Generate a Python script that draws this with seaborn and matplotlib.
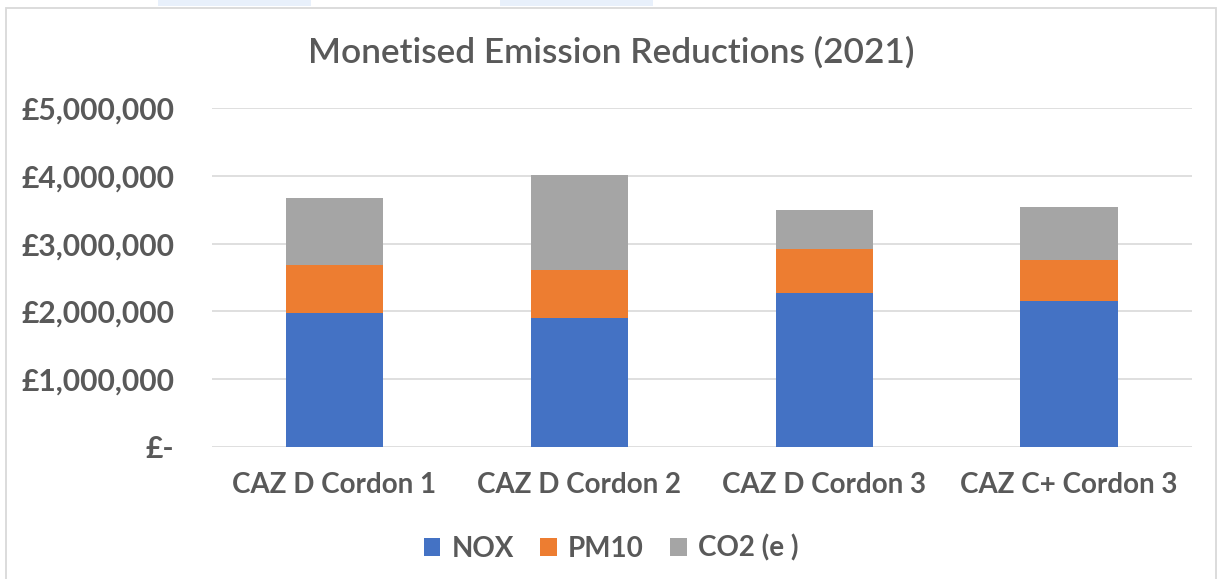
import matplotlib
matplotlib.use("Agg")
import matplotlib.pyplot as plt
from matplotlib.patches import Rectangle, Patch
from matplotlib.ticker import FuncFormatter
import seaborn as sns
import pandas as pd
import numpy as np

categories = ["CAZ D Cordon 1", "CAZ D Cordon 2", "CAZ D Cordon 3", "CAZ C+ Cordon 3"]
nox = [1980000, 1900000, 2275000, 2160000]
pm10 = [700000, 705000, 640000, 600000]
co2 = [990000, 1415000, 575000, 780000]
series_names = ["NOX", "PM10", "CO2 (e )"]
colors = ["#4472C4", "#ED7D31", "#A5A5A5"]
yticks = [0, 1000000, 2000000, 3000000, 4000000, 5000000]

sns.set_theme(style="white")
plt.rcParams['font.family'] = ['Lato', 'DejaVu Sans']
text_col = "#595959"

fig = plt.figure(figsize=(12.19, 5.79), dpi=100)
W, H = 1219, 579
ax = fig.add_axes([212/W, 1 - 446.7/H, (1191.5 - 212)/W, (446.7 - 108.3)/H])

df = pd.DataFrame({"cat": categories, "NOX": nox, "PM10": pm10, "CO2": co2})
df["c1"] = df["NOX"]
df["c2"] = df["NOX"] + df["PM10"]
df["c3"] = df["c2"] + df["CO2"]

for col, c in zip(["c3", "c2", "c1"], colors[::-1]):
    sns.barplot(data=df, x="cat", y=col, color=c, width=0.397, ax=ax,
                saturation=1, linewidth=0, zorder=3)

ax.set_ylim(0, 5000000)
ax.set_xlim(-0.5, 3.5)
ax.set_yticks(yticks)
ax.yaxis.set_major_formatter(FuncFormatter(lambda v, p: "£-" if v == 0 else f"£{v:,.0f}"))
ax.grid(axis="y", color="#D9D9D9", linewidth=1.2, zorder=0)
ax.set_axisbelow(True)
for s in ax.spines.values():
    s.set_visible(False)
ax.set_xlabel("")
ax.set_ylabel("")
ax.tick_params(axis="both", length=0)
ax.tick_params(axis="y", pad=27)
ax.tick_params(axis="x", pad=18)
for lab in ax.get_yticklabels():
    lab.set_fontsize(21.6)
for lab in ax.get_xticklabels():
    lab.set_fontsize(20)
for lab in ax.get_yticklabels() + ax.get_xticklabels():
    lab.set_fontweight("bold")
    lab.set_color(text_col)

fig.text(611/W, 1 - 52/H, "Monetised Emission Reductions (2021)", ha="center", va="center",
         fontsize=25.4, color=text_col, fontweight="semibold")

handles = [Patch(facecolor=c, edgecolor="none") for c in colors]
leg = fig.legend(handles, series_names, loc="center", bbox_to_anchor=(611/W, 1 - 548/H),
                 ncol=3, frameon=False, fontsize=20, handlelength=0.6, handleheight=0.6,
                 handletextpad=0.4, columnspacing=0.95)
for t in leg.get_texts():
    t.set_fontweight("bold")
    t.set_color(text_col)

# chart frame and top artifacts
fig.patches.append(Rectangle((6/W, -0.05), (1215.5 - 6)/W, (579 + 30 - 9)/H, transform=fig.transFigure,
                             fill=False, edgecolor="#D9D9D9", linewidth=1.3, zorder=0))
fig.patches.append(Rectangle((158/W, 1 - 6/H), (311 - 158)/W, 6/H, transform=fig.transFigure,
                             facecolor="#E8F0FB", edgecolor="none"))
fig.patches.append(Rectangle((500/W, 1 - 6/H), (653 - 500)/W, 6/H, transform=fig.transFigure,
                             facecolor="#E8F0FB", edgecolor="none"))

fig.savefig("out.png", dpi=100)
